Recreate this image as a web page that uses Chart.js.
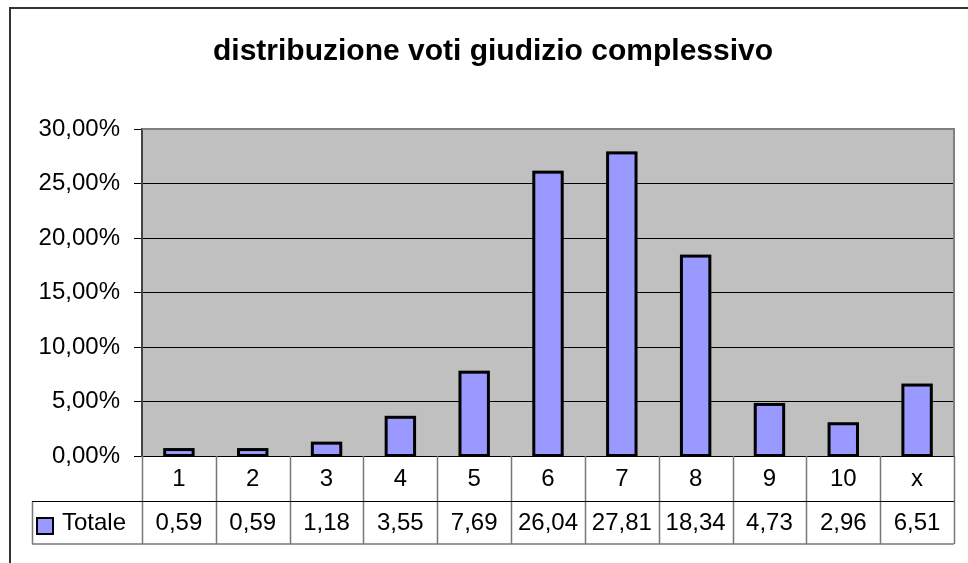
<!DOCTYPE html>
<html>
<head>
<meta charset="utf-8">
<script src="https://cdn.jsdelivr.net/npm/chart.js@4/dist/chart.umd.min.js"></script>
<style>
  html, body { margin: 0; padding: 0; background: #fff; }
</style>
</head>
<body>
<canvas id="chart" width="968" height="563"></canvas>
<script>
const titleText = "distribuzione voti giudizio complessivo";
const categories = ["1", "2", "3", "4", "5", "6", "7", "8", "9", "10", "x"];
const seriesName = "Totale";
const totale = [0.59, 0.59, 1.18, 3.55, 7.69, 26.04, 27.81, 18.34, 4.73, 2.96, 6.51];
const yMax = 30, yStep = 5;

const FONT = "'Liberation Sans', Arial, sans-serif";
const barFill = "#9999ff";
const comma = (v, d) => v.toFixed(d).replace(".", ",");

// frame + grey plot background
const backdrop = {
  id: "backdrop",
  beforeDraw(chart) {
    const { ctx, chartArea: a } = chart;
    ctx.save();
    ctx.fillStyle = "#fff";
    ctx.fillRect(0, 0, chart.width, chart.height);
    ctx.strokeStyle = "#333";
    ctx.lineWidth = 2;
    ctx.beginPath();
    ctx.moveTo(10, chart.height + 2);
    ctx.lineTo(10, 8);
    ctx.lineTo(chart.width + 2, 8);
    ctx.stroke();
    ctx.fillStyle = "#c0c0c0";
    ctx.fillRect(a.left, a.top, a.right - a.left, a.bottom - a.top);
    ctx.restore();
  },
  beforeDatasetsDraw(chart) {
    const { ctx, chartArea: a } = chart;
    ctx.save();
    ctx.strokeStyle = "#808080";
    ctx.lineWidth = 2;
    ctx.beginPath();
    ctx.moveTo(a.left, a.top);
    ctx.lineTo(a.right, a.top);
    ctx.lineTo(a.right, a.bottom);
    ctx.stroke();
    ctx.restore();
  },
  // Excel-style outline: centred on the bar edge, so thin bars keep their fill
  afterDatasetsDraw(chart) {
    const { ctx } = chart;
    ctx.save();
    ctx.strokeStyle = "#000";
    ctx.lineWidth = 3;
    chart.getDatasetMeta(0).data.forEach(bar => {
      const { x, y, base, width } = bar.getProps(["x", "y", "base", "width"], true);
      ctx.strokeRect(x - width / 2, y, width, base - y);
    });
    ctx.restore();
  }
};

// data table under the x axis
const dataTable = {
  id: "dataTable",
  afterDraw(chart) {
    const { ctx, chartArea: a } = chart;
    const x = chart.scales.x;
    const half = (x.getPixelForValue(1) - x.getPixelForValue(0)) / 2;
    const top = a.bottom, mid = 501, bot = 544, legLeft = 32;
    ctx.save();
    // vertical dividers
    ctx.strokeStyle = "#777";
    ctx.lineWidth = 1.5;
    ctx.beginPath();
    for (let i = 0; i <= categories.length; i++) {
      const px = Math.round(x.getPixelForValue(i) - half) + 0.5;
      ctx.moveTo(px, top);
      ctx.lineTo(px, bot);
    }
    ctx.moveTo(legLeft + 0.5, mid);
    ctx.lineTo(legLeft + 0.5, bot);
    ctx.stroke();
    // horizontal rules
    ctx.strokeStyle = "#000";
    ctx.lineWidth = 1;
    ctx.beginPath();
    ctx.moveTo(legLeft, mid + 0.5);
    ctx.lineTo(a.right, mid + 0.5);
    ctx.stroke();
    ctx.strokeStyle = "#777";
    ctx.lineWidth = 1.5;
    ctx.beginPath();
    ctx.moveTo(legLeft, bot);
    ctx.lineTo(a.right, bot);
    ctx.stroke();
    // legend key
    ctx.fillStyle = barFill;
    ctx.fillRect(37, 518, 16, 16);
    ctx.strokeStyle = "#000";
    ctx.lineWidth = 2;
    ctx.strokeRect(37, 518, 16, 16);
    // texts
    ctx.fillStyle = "#000";
    ctx.font = `24px ${FONT}`;
    ctx.textBaseline = "middle";
    ctx.textAlign = "left";
    ctx.fillText(seriesName, 62, 523);
    ctx.textAlign = "center";
    totale.forEach((v, i) => ctx.fillText(comma(v, 2), x.getPixelForValue(i), 523));
    ctx.restore();
  }
};

new Chart(document.getElementById("chart"), {
  type: "bar",
  data: {
    labels: categories,
    datasets: [{
      label: seriesName,
      data: totale,
      backgroundColor: barFill,
      borderWidth: 0,
      categoryPercentage: 1,
      barPercentage: 0.385,
    }],
  },
  options: {
    responsive: false,
    animation: false,
    layout: { padding: { left: 32, right: 14, top: 0, bottom: 0 } },
    plugins: {
      legend: { display: false },
      tooltip: { enabled: false },
      title: {
        display: true,
        text: titleText,
        color: "#000",
        font: { family: FONT, size: 30, weight: "bold", lineHeight: 1.2 },
        padding: { top: 34, bottom: 59 },
      },
    },
    scales: {
      x: {
        afterFit: s => { s.height = 107; },
        grid: { display: false },
        border: { display: false },
        ticks: { color: "#000", font: { family: FONT, size: 24 }, padding: 1, maxRotation: 0 },
      },
      y: {
        min: 0, max: yMax,
        afterFit: s => { s.width = 110; },
        grid: { color: "#000", lineWidth: 1, tickLength: 8 },
        border: { color: "#444", width: 2 },
        ticks: {
          stepSize: yStep,
          color: "#000",
          padding: 14,
          font: { family: FONT, size: 24 },
          callback: v => comma(v, 2) + "%",
        },
      },
    },
  },
  plugins: [backdrop, dataTable],
});
</script>
</body>
</html>
